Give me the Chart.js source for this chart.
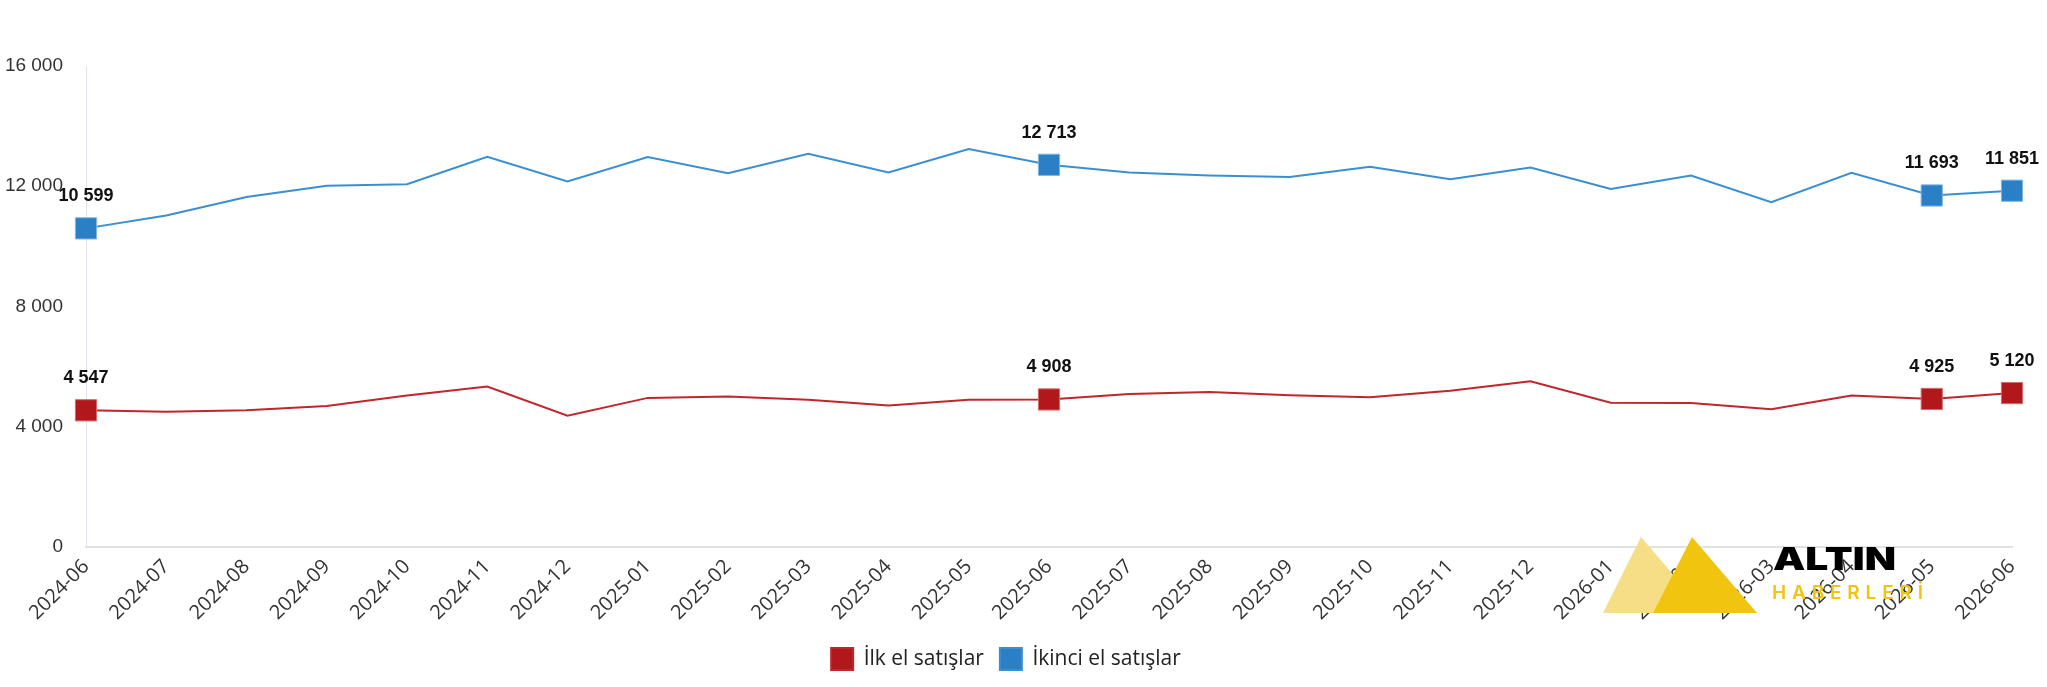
<!DOCTYPE html>
<html lang="tr">
<head>
<meta charset="utf-8">
<title>İlk el ve ikinci el satışlar</title>
<script src="https://cdn.jsdelivr.net/npm/chart.js@4.4.1/dist/chart.umd.min.js"></script>
<style>
  html, body { margin: 0; padding: 0; background: #fff; }
  #wrap { position: relative; width: 2047px; height: 687px; }
  #logo { position: absolute; left: 0; top: 0; pointer-events: none; }
</style>
</head>
<body>
<div id="wrap">
  <canvas id="salesChart" width="2047" height="687"></canvas>
  <svg id="logo" width="2047" height="687" xmlns="http://www.w3.org/2000/svg">
    <polygon points="1641,537 1603,613 1706,613" fill="#f6de86" />
    <polygon points="1692,537 1653,613 1757,613" fill="#f1c40f" />
    <text x="1773" y="570" font-family="Inter, 'Noto Sans', sans-serif" font-weight="900" font-size="31" fill="#000" textLength="123" lengthAdjust="spacingAndGlyphs">ALTIN</text>
    <text x="1772" y="599" font-family="Inter, 'Noto Sans', sans-serif" font-weight="600" font-size="19" fill="#f1c40f" textLength="151" lengthAdjust="spacing">HABERLERİ</text>
  </svg>
</div>
<script>
const months = [
  "2024-06", "2024-07", "2024-08", "2024-09", "2024-10", "2024-11", "2024-12",
  "2025-01", "2025-02", "2025-03", "2025-04", "2025-05", "2025-06", "2025-07",
  "2025-08", "2025-09", "2025-10", "2025-11", "2025-12", "2026-01", "2026-02",
  "2026-03", "2026-04", "2026-05", "2026-06",
];

// İlk el satışlar
const firstHand = [
  4547, 4500, 4550, 4690, 5040, 5340, 4370,
  4960, 5010, 4900, 4710, 4900, 4908, 5090,
  5160, 5050, 4980, 5200, 5510, 4800, 4790,
  4580, 5040, 4925, 5120,
];

// İkinci el satışlar
const secondHand = [
  10599, 11030, 11640, 12020, 12070, 12980, 12160,
  12970, 12430, 13080, 12460, 13240, 12713, 12460,
  12360, 12310, 12650, 12230, 12620, 11910, 12360,
  11470, 12450, 11693, 11851,
];

// months that get a square marker and a value label
const highlighted = [0, 12, 23, 24];

const yTicks = [0, 4000, 8000, 12000, 16000];

const fmt = (v) => String(v).replace(/\B(?=(\d{3})+(?!\d))/g, " ");

const NARROW = "'Liberation Sans Narrow', 'Arial Narrow', 'Liberation Sans', sans-serif";

const valueLabels = {
  id: "valueLabels",
  afterDatasetsDraw(chart) {
    const ctx = chart.ctx;
    ctx.save();
    ctx.font = "bold 18px " + NARROW;
    ctx.fillStyle = "#111";
    ctx.textAlign = "center";
    ctx.textBaseline = "bottom";
    chart.data.datasets.forEach((ds, di) => {
      const meta = chart.getDatasetMeta(di);
      highlighted.forEach((i) => {
        const pt = meta.data[i];
        if (!pt) return;
        ctx.fillText(fmt(ds.data[i]), pt.x, pt.y - 23);
      });
    });
    ctx.restore();
  },
};

function markerRadius(c) {
  return highlighted.includes(c.dataIndex) ? 15 : 0;
}

const ctx = document.getElementById("salesChart").getContext("2d");
new Chart(ctx, {
  type: "line",
  data: {
    labels: months,
    datasets: [
      {
        label: "İlk el satışlar",
        data: firstHand,
        borderColor: "#c0262b",
        backgroundColor: "#b0181c",
        pointBackgroundColor: "#b0181c",
        pointBorderColor: "#d86a6d",
        pointBorderWidth: 1,
        pointStyle: "rect",
        pointRadius: markerRadius,
        pointHoverRadius: markerRadius,
        borderWidth: 2,
        tension: 0,
      },
      {
        label: "İkinci el satışlar",
        data: secondHand,
        borderColor: "#3a8fd2",
        backgroundColor: "#2a7fc5",
        pointBackgroundColor: "#2a7fc5",
        pointBorderColor: "#7fb6e4",
        pointBorderWidth: 1,
        pointStyle: "rect",
        pointRadius: markerRadius,
        pointHoverRadius: markerRadius,
        borderWidth: 2,
        tension: 0,
      },
    ],
  },
  options: {
    responsive: false,
    animation: false,
    layout: { padding: { top: 66, right: 35, left: 0, bottom: 7 } },
    scales: {
      x: {
        offset: false,
        grid: { display: false, drawTicks: false },
        border: { display: true, color: "#e2e2e2", width: 2 },
        ticks: {
          autoSkip: false,
          minRotation: 45,
          maxRotation: 45,
          padding: 8,
          color: "#333",
          font: { family: "'Open Sans', 'Noto Sans', sans-serif", size: 20 },
        },
        afterFit(scale) { scale.height = 85; },
      },
      y: {
        min: 0,
        max: 16000,
        grid: { display: false, drawTicks: false },
        border: { display: true, color: "#dde4ee", width: 1 },
        afterBuildTicks(scale) { scale.ticks = yTicks.map((v) => ({ value: v })); },
        ticks: {
          padding: 23,
          color: "#333",
          font: { family: NARROW, size: 19 },
          callback: (v) => fmt(v),
        },
        afterFit(scale) { scale.width = 86; },
      },
    },
    plugins: {
      legend: {
        position: "bottom",
        labels: {
          boxWidth: 22,
          boxHeight: 22,
          padding: 16,
          color: "#222",
          font: { family: "'Open Sans', 'Noto Sans', sans-serif", size: 21 },
        },
      },
      tooltip: { enabled: false },
    },
  },
  plugins: [valueLabels],
});
</script>
</body>
</html>
